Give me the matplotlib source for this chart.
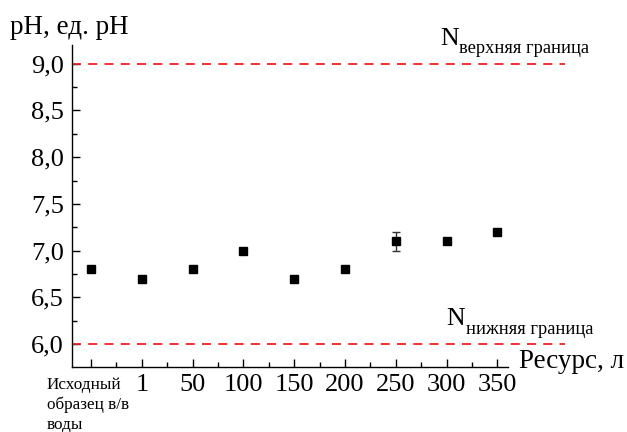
import matplotlib
matplotlib.use("Agg")
import matplotlib.pyplot as plt
from matplotlib.ticker import MultipleLocator, FixedLocator

plt.rcParams['font.family'] = ['Liberation Serif', 'DejaVu Serif']

categories = ["Исходный\nобразец в/в\nводы", "1", "50", "100", "150", "200", "250", "300", "350"]
ph_values = [6.8, 6.7, 6.8, 7.0, 6.7, 6.8, 7.1, 7.1, 7.2]
ph_errors = [0, 0, 0, 0, 0, 0, 0.1, 0, 0]
upper_limit = 9.0
lower_limit = 6.0

fig = plt.figure(figsize=(6.27, 4.32), dpi=100)
ax = fig.add_axes([72 / 627, 1 - 367 / 432, (565 - 72) / 627, (367 - 45) / 432])

x = list(range(len(categories)))
ax.errorbar(x, ph_values, yerr=ph_errors, fmt='s', color='black', ms=5.5,
            ecolor='#333333', elinewidth=1.0, capsize=3, capthick=1.0, zorder=3)

ax.axhline(upper_limit, color='#ee2222', ls=(0, (5, 4)), lw=1.3)
ax.axhline(lower_limit, color='#ee2222', ls=(0, (5, 4)), lw=1.3)

ax.set_xlim(-0.374, 9.33)
ax.set_ylim(5.755, 9.2)

for s in ['top', 'right']:
    ax.spines[s].set_visible(False)
ax.spines['bottom'].set_bounds(-0.374, 8.2)
for s in ['left', 'bottom']:
    ax.spines[s].set_linewidth(1.0)

ax.xaxis.set_major_locator(FixedLocator(x))
ax.xaxis.set_minor_locator(FixedLocator([i + 0.5 for i in x[:-1]]))
ax.set_xticklabels([])
yt = [6.0, 6.5, 7.0, 7.5, 8.0, 8.5, 9.0]
ax.set_yticks(yt)
ax.yaxis.set_minor_locator(MultipleLocator(0.25))
ax.set_yticklabels([f"{v:.1f}".replace('.', ',') for v in yt], fontsize=19)
ax.tick_params(axis='both', which='major', direction='in', length=6, width=1.0, pad=6)
ax.tick_params(axis='both', which='minor', direction='in', length=3.5, width=1.0)

# category labels under the x axis
for i, lab in enumerate(categories):
    if i == 0:
        ax.annotate(lab, xy=(i, 5.755), xycoords='data', xytext=(-32, -7),
                    textcoords='offset points', ha='left', va='top',
                    fontsize=12.3, linespacing=1.3)
    else:
        ax.annotate(lab, xy=(i, 5.755), xycoords='data', xytext=(0, -5),
                    textcoords='offset points', ha='center', va='top', fontsize=19)

fig.text(519 / 627, 1 - 362 / 432, "Ресурс, л", fontsize=19.5, ha='left', va='center')
fig.text(10 / 627, 1 - 28 / 432, "pH, ед. pH", fontsize=19.5, ha='left', va='center')

# limit labels: "N" with a lowered, smaller index
def limit_label(xpos, level, index_text):
    ax.annotate("N", xy=(xpos, level), xytext=(0, 13.5), textcoords='offset points',
                fontsize=18.5, ha='left', va='baseline')
    ax.annotate(index_text, xy=(xpos, level), xytext=(14, 7.5), textcoords='offset points',
                fontsize=13.3, ha='left', va='baseline')

limit_label(6.87, upper_limit, "верхняя граница")
limit_label(7.0, lower_limit, "нижняя граница")

fig.savefig("out.png", dpi=100)
